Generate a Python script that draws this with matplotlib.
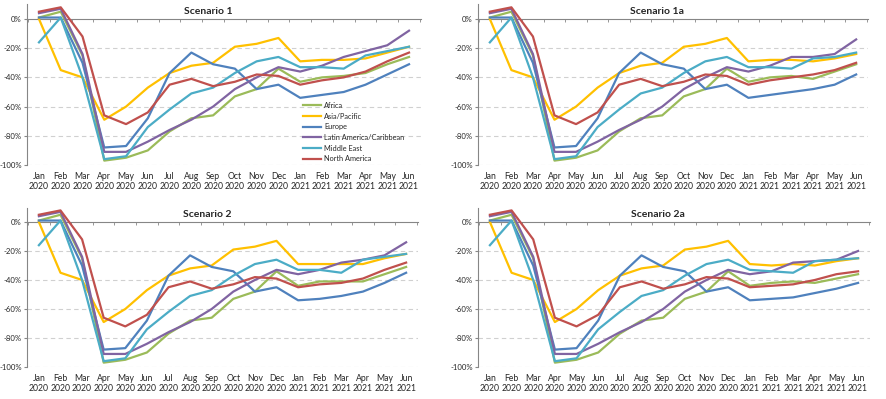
import matplotlib as mpl
mpl.use('Agg')
import matplotlib.pyplot as plt
import numpy as np

months = ["Jan\n2020", "Feb\n2020", "Mar\n2020", "Apr\n2020", "May\n2020", "Jun\n2020",
          "Jul\n2020", "Aug\n2020", "Sep\n2020", "Oct\n2020", "Nov\n2020", "Dec\n2020",
          "Jan\n2021", "Feb\n2021", "Mar\n2021", "Apr\n2021", "May\n2021", "Jun\n2021"]

regions = ["Africa", "Asia/Pacific", "Europe", "Latin America/Caribbean", "Middle East", "North America"]
colors = ["#9BBB59", "#FFC000", "#4F81BD", "#8064A2", "#4BACC6", "#C0504D"]

# Jan-Dec 2020, shared by all scenarios
hist_africa = [1, 5, -25, -97, -95, -90, -77, -68, -66, -53, -48, -34]
hist_asia = [0, -35, -40, -69, -60, -47, -37, -32, -30, -19, -17, -13]
hist_europe = [1, 1, -30, -88, -87, -68, -37, -23, -31, -34, -48, -45]
hist_latam = [4, 7, -24, -91, -91, -84, -76, -69, -60, -48, -40, -33]
hist_mideast = [-16, 1, -40, -96, -94, -74, -62, -51, -47, -37, -29, -26]
hist_namerica = [5, 8, -12, -66, -72, -64, -45, -41, -46, -43, -38, -39]

# Jan-Jun 2021 per scenario
s1_africa = [-43, -40, -39, -37, -31, -26]
s1_asia = [-29, -28, -28, -27, -23, -19]
s1_europe = [-54, -52, -50, -45, -38, -31]
s1_latam = [-36, -32, -26, -22, -18, -8]
s1_mideast = [-33, -33, -34, -25, -22, -19]
s1_namerica = [-45, -42, -40, -36, -29, -23]

s1a_africa = [-43, -40, -39, -41, -36, -31]
s1a_asia = [-29, -28, -28, -29, -27, -24]
s1a_europe = [-54, -52, -50, -48, -45, -38]
s1a_latam = [-36, -32, -26, -26, -24, -14]
s1a_mideast = [-33, -33, -34, -27, -26, -23]
s1a_namerica = [-45, -42, -40, -38, -35, -30]

s2_africa = [-44, -41, -41, -41, -36, -31]
s2_asia = [-29, -29, -29, -29, -25, -22]
s2_europe = [-54, -53, -51, -48, -42, -35]
s2_latam = [-36, -33, -28, -26, -23, -14]
s2_mideast = [-33, -33, -35, -26, -24, -22]
s2_namerica = [-45, -43, -42, -39, -33, -28]

s2a_africa = [-44, -42, -41, -42, -39, -36]
s2a_asia = [-29, -30, -29, -30, -27, -25]
s2a_europe = [-54, -53, -52, -49, -46, -42]
s2a_latam = [-36, -34, -28, -27, -26, -20]
s2a_mideast = [-33, -34, -35, -27, -26, -25]
s2a_namerica = [-45, -44, -43, -40, -36, -34]

hist = [hist_africa, hist_asia, hist_europe, hist_latam, hist_mideast, hist_namerica]
scenarios = [
    ("Scenario 1", [s1_africa, s1_asia, s1_europe, s1_latam, s1_mideast, s1_namerica]),
    ("Scenario 1a", [s1a_africa, s1a_asia, s1a_europe, s1a_latam, s1a_mideast, s1a_namerica]),
    ("Scenario 2", [s2_africa, s2_asia, s2_europe, s2_latam, s2_mideast, s2_namerica]),
    ("Scenario 2a", [s2a_africa, s2a_asia, s2a_europe, s2a_latam, s2a_mideast, s2a_namerica]),
]

plt.rcParams['font.family'] = ['Lato', 'DejaVu Sans']
W, H = 886, 399
fig = plt.figure(figsize=(W / 100, H / 100), dpi=100)

# axes rectangles in pixels: left, right, y of 0%, y of -100%
boxes = [(27, 421, 19, 165), (478, 868, 19, 165), (27, 418, 222, 367), (478, 870, 222, 367)]
title_x = [0.46, 0.46, 0.46, 0.46]

txt = '#262626'
axcol = '#868686'
x = np.arange(len(months))
for i, (name, fut) in enumerate(scenarios):
    l, r, y0, y100 = boxes[i]
    per = (y100 - y0) / 100.0
    top = y0 - 10 * per
    ax = fig.add_axes([l / W, 1 - y100 / H, (r - l) / W, (y100 - top) / H])
    for j in range(len(regions)):
        ax.plot(x, hist[j] + fut[j], color=colors[j], lw=1.6, label=regions[j], solid_joinstyle='round')
    ax.set_xlim(-0.55, len(months) - 0.45)
    ax.set_ylim(-100, 10)
    ax.set_yticks(np.arange(-100, 1, 20))
    ax.set_yticklabels([f"{v}%" for v in range(-100, 1, 20)])
    ax.set_xticks(x)
    ax.set_xticklabels(months)
    ax.set_xticks(np.arange(-0.5, len(months), 1), minor=True)
    for v in range(-100, 0, 20):
        ax.axhline(v, color='#D0D0D0', lw=0.8, ls=(0, (4, 3)), zorder=0)
    for s in ['right', 'bottom']:
        ax.spines[s].set_visible(False)
    ax.spines['top'].set_position(('data', 0))
    ax.spines['top'].set_color(axcol)
    ax.spines['top'].set_zorder(0.5)
    ax.spines['left'].set_color(axcol)
    ax.tick_params(axis='x', which='major', length=0, pad=5, labelsize=6.2, labelcolor=txt)
    ax.tick_params(axis='x', which='minor', bottom=False, top=True, direction='in', length=2.5, color=axcol)
    ax.tick_params(axis='y', length=2.5, color=axcol, labelsize=5.6, labelcolor=txt, pad=1.2)
    ax.text(title_x[i], 0.955, name, transform=ax.transAxes, ha='center', va='center',
            fontsize=7.5, fontweight='bold', color=txt)
    if i == 0:
        ax.legend(loc='upper left', bbox_to_anchor=(0.69, 0.415), frameon=False, fontsize=5.3,
                  handlelength=2.5, handletextpad=0.45, labelspacing=0.5, borderpad=0,
                  labelcolor=txt)

fig.savefig('out.png', dpi=100)
